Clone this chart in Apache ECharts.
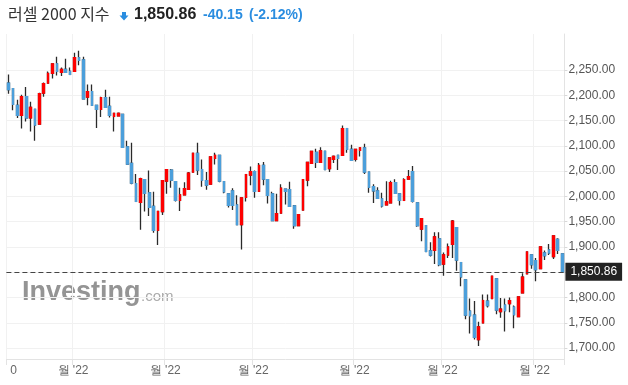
<!DOCTYPE html>
<html><head><meta charset="utf-8">
<script src="https://cdn.jsdelivr.net/npm/echarts@6/dist/echarts.min.js"></script>
<style>html,body{margin:0;padding:0;background:#fff}#c{width:628px;height:385px}</style>
</head><body><div id="c"></div>
<script>
const opens = [2224,2213,2180,2160,2197,2155,2172,2143,2204,2224,2243,2262,2245,2251,2247,2247,2274,2270,2196,2207,2180,2172,2195,2178,2158,2159,
2162,2098,2065,2025,1988,2033,2007,1980,1933,1970,2030,2052,2029,1992,2003,2014,2048,2085,2053,2031,2024,2075,2081,2029,2005,
2011,1983,1944,1998,2042,2049,2010,2061,2033,2005,1952,1967,2014,2013,1981,1942,1973,2032,2065,2087,2067,2089,2055,2073,2081,
2081,2134,2093,2073,2091,2096,2048,2019,2011,1995,1983,1987,2027,2005,1992,2034,2049,1987,1935,1942,1892,1893,1916,1866,1884,1905,
1938,1869,1835,1773,1765,1717,1750,1793,1798,1837,1772,1785,1788,1781,1762,1809,1847,1884,1873,1857,1888,1894,1881,1915,1886];
const closes = [2211,2182,2160,2197,2155,2176,2141,2203,2223,2243,2262,2247,2251,2245,2241,2274,2269,2193,2207,2180,2172,2195,2176,2160,2164,2164,
2097,2064,2026,1990,2035,2006,1978,1933,1970,2031,2053,2032,1992,2003,2015,2046,2085,2052,2032,2022,2078,2081,2030,2009,1982,
1982,1944,1997,2043,2049,2010,2061,2034,2002,1952,1966,2016,2010,1980,1942,1964,2033,2067,2089,2067,2090,2053,2076,2079,2075,
2134,2093,2071,2093,2096,2048,2018,2011,1996,1981,1989,2027,2006,1992,2033,2039,1990,1942,1956,1891,1884,1920,1865,1884,1900,1951,
1874,1841,1765,1764,1721,1742,1794,1784,1842,1775,1777,1774,1794,1766,1801,1840,1890,1865,1855,1900,1883,1888,1922,1893,1850.86];
const lows = [2203,2170,2155,2134,2148,2128,2110,2142,2197,2223,2233,2239,2238,2244,2240,2246,2259,2193,2180,2180,2135,2157,2175,2156,2128,2158,
2097,2064,2024,1990,1934,1970,1961,1928,1904,1963,2005,2017,1990,1971,2002,2014,2048,2042,2019,2013,2024,2063,2028,2006,1978,
1973,1944,1895,1990,2022,1997,2010,2022,1986,1952,1952,1967,1984,1980,1936,1942,1973,2020,2065,2056,2067,2053,2048,2066,2052,
2081,2086,2071,2069,2079,2044,2007,1987,1995,1978,1983,1987,2006,1982,1992,2034,1988,1940,1911,1891,1881,1866,1862,1843,1878,1878,
1853,1822,1757,1729,1717,1704,1750,1780,1798,1767,1760,1733,1771,1739,1761,1809,1847,1857,1832,1857,1874,1884,1876,1886,1850.86];
const highs = [2241,2214,2191,2201,2216,2187,2172,2205,2225,2247,2263,2276,2255,2272,2255,2284,2288,2276,2221,2221,2180,2197,2211,2197,2164,2166,
2163,2110,2106,2044,2037,2033,2051,2009,1970,2031,2054,2054,2029,2017,2028,2048,2085,2106,2073,2048,2079,2086,2081,2029,2005,
2016,2002,1998,2043,2059,2051,2066,2068,2033,2009,2005,2024,2014,2029,1983,1964,2033,2067,2089,2094,2097,2089,2076,2081,2081,
2140,2134,2102,2093,2097,2104,2048,2024,2018,2007,2030,2031,2034,2005,2036,2052,2060,1987,1956,1942,1909,1929,1929,1889,1907,1953,
1939,1869,1835,1798,1793,1752,1806,1806,1842,1837,1799,1798,1800,1784,1802,1848,1890,1884,1878,1900,1893,1906,1922,1917,1886];
const yTicks = [1700,1750,1800,1850,1900,1950,2000,2050,2100,2150,2200,2250];
const monthTickIdx = [0,15,36,56,79,99,120];
const monthLabels = ['0',"월 '22","월 '22","월 '22","월 '22","월 '22","월 '22"];
const lastPrice = 1850.86;
const titleName = '러셀 2000 지수';
const priceText = '1,850.86';
const changeText = '-40.15';
const changePctText = '(-2.12%)';

const UP = '#fe0000', DOWN = '#4c9fdb', WICK = '#2a2a2a', BLUE_TXT = '#2a8de0';
const cats = opens.map((_, i) => String(i));
const fullRows = opens.map((o, i) => [o, closes[i], lows[i], highs[i]]);
const bodyRows = opens.map((o, i) => [o, closes[i], Math.min(o, closes[i]), Math.max(o, closes[i])]);
function fmt(v){ const s = v.toFixed(2); const [a,b] = s.split('.'); return a.replace(/\B(?=(\d{3})+(?!\d))/g, ',') + '.' + b; }
const isMonth = (i) => monthTickIdx.indexOf(i) >= 0;

const chart = echarts.init(document.getElementById('c'), null, {renderer:'canvas'});
chart.setOption({
  animation:false,
  backgroundColor:'#fff',
  grid:{left:6.4, right:63.6, top:34, bottom:26, containLabel:false},
  xAxis:{type:'category', data:cats, boundaryGap:true,
    axisLine:{show:true, lineStyle:{color:'#e3e3e3'}},
    axisTick:{show:true, alignWithLabel:false, interval:(i)=>isMonth(i), length:6, lineStyle:{color:'#e3e3e3'}},
    splitLine:{show:true, interval:(i)=>isMonth(i), lineStyle:{color:'#f1f1f1'}},
    axisLabel:{interval:(i)=>isMonth(i), margin:6, color:'#666', fontSize:12, fontFamily:'Arial',
      formatter:(v,i)=>{ const k = monthTickIdx.indexOf(Number(v)); if(k<0) return ''; return k===0 ? '{f|'+monthLabels[k]+'}' : '{l|'+monthLabels[k]+'}'; },
      rich:{f:{padding:[0,0,0,10], color:'#666', fontSize:12, fontFamily:'Arial'}, l:{padding:[0,3,0,0], color:'#666', fontSize:12, fontFamily:'Arial'}}
    }
  },
  yAxis:{type:'value', position:'right', min:1678.4, max:2321, scale:true,
    axisLine:{show:true, lineStyle:{color:'#e3e3e3'}},
    axisTick:{show:true, length:3, lineStyle:{color:'#d8d8d8'}, customValues:yTicks},
    axisLabel:{customValues:yTicks, margin:4, color:'#555', fontSize:12, fontFamily:'Arial', formatter:(v)=>fmt(v)},
    splitLine:{show:true, lineStyle:{color:'#f1f1f1'}}
  },
  graphic:[
    {type:'text', left:8, top:6, style:{text:titleName, font:'16px "Noto Sans CJK KR", sans-serif', fill:'#333'}},
    {type:'polygon', shape:{points:[[122,12],[126,12],[126,15.5],[128.5,15.5],[124,20.5],[119.5,15.5],[122,15.5]]}, style:{fill:BLUE_TXT}},
    {type:'text', left:134, top:7, style:{text:priceText, font:'bold 16px Arial, "Liberation Sans"', fill:'#222'}},
    {type:'text', left:203, top:8, style:{text:changeText, font:'bold 14px Arial, "Liberation Sans"', fill:BLUE_TXT}},
    {type:'text', left:249, top:8, style:{text:changePctText, font:'bold 14px Arial, "Liberation Sans"', fill:BLUE_TXT}},
    {type:'text', left:22, top:279, z:-1, style:{text:'Investing', font:'bold 27px Arial, "Liberation Sans"', fill:'#949494'}},
    {type:'text', left:141, top:289, z:-1, style:{text:'.com', font:'15px Arial, "Liberation Sans"', fill:'#aaaaaa'}}
  ],
  series:[
    {type:'candlestick', name:'wick', data:fullRows, barWidth:2.2, silent:true,
      itemStyle:{color:WICK, color0:WICK, borderColor:WICK, borderColor0:WICK, borderWidth:1.3}},
    {type:'candlestick', name:'body', data:bodyRows, barWidth:2.2, silent:true,
      itemStyle:{color:UP, color0:DOWN, borderColor:UP, borderColor0:DOWN, borderWidth:1.3},
      markLine:{silent:true, symbol:['none','none'], data:[{yAxis:lastPrice}],
        lineStyle:{color:'#444', type:[5,3], width:1.2},
        label:{show:true, position:'end', distance:1, formatter:()=>fmt(lastPrice), backgroundColor:'#222', color:'#fff', fontSize:12, fontFamily:'Arial', padding:[3,5,3,5]}
      }
    }
  ]
});
</script></body></html>
